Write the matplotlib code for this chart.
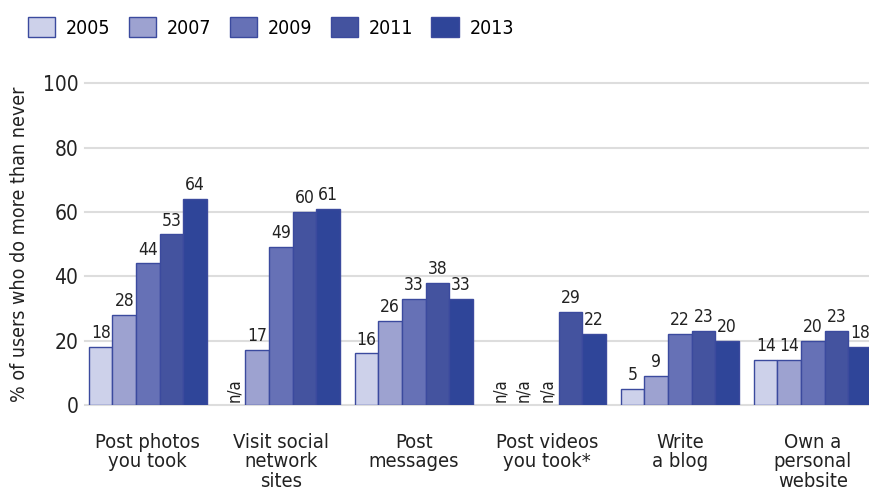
import numpy as np
import matplotlib.pyplot as plt

plt.rcParams['font.family'] = ['DejaVu Sans Condensed', 'Liberation Sans Narrow', 'DejaVu Sans']
plt.rcParams['font.stretch'] = 'condensed'

categories = ['Post photos\nyou took', 'Visit social\nnetwork\nsites', 'Post\nmessages',
              'Post videos\nyou took*', 'Write\na blog', 'Own a\npersonal\nwebsite']
years = ['2005', '2007', '2009', '2011', '2013']
# None = not asked that year (shown as n/a)
v2005 = [18, None, 16, None, 5, 14]
v2007 = [28, 17, 26, None, 9, 14]
v2009 = [44, 49, 33, None, 22, 20]
v2011 = [53, 60, 38, 29, 23, 23]
v2013 = [64, 61, 33, 22, 20, 18]

series = [v2005, v2007, v2009, v2011, v2013]
colors = ['#cdd1ea', '#9da2d0', '#6671b6', '#44539f', '#2f4599']
edge = '#3b4a9e'
txt = '#222222'

fig = plt.figure(figsize=(8.7, 4.92), dpi=100)
ax = fig.add_axes([0.098, 0.177, 0.902, 0.654])

x = np.arange(len(categories))
w = 0.177
for i, (vals, col) in enumerate(zip(series, colors)):
    pos = x + (i - 2) * w
    for p, v in zip(pos, vals):
        if v is None:
            ax.text(p, 0.8, 'n/a', rotation=90, ha='center', va='bottom',
                    fontsize=12, color=txt)
            continue
        ax.bar(p, v, width=w, color=col, edgecolor=edge, linewidth=1.0, zorder=3)
        ax.text(p, v + 1.5, str(v), ha='center', va='bottom', fontsize=12.5,
                color=txt, zorder=4)

for g in range(0, 101, 20):
    ax.axhline(g, color='#dddddd', linewidth=1.5, zorder=1, clip_on=False)

ax.set_ylim(0, 100)
ax.set_xlim(-0.47, 5.43)
ax.set_yticks(range(0, 101, 20))
ax.set_yticklabels([str(t) for t in range(0, 101, 20)], fontsize=15, color=txt)
ax.set_xticks(x)
ax.set_xticklabels(categories, fontsize=14.5, color=txt, va='top', linespacing=1.05)
ax.tick_params(axis='both', length=0)
ax.tick_params(axis='x', pad=20)
ax.tick_params(axis='y', pad=5)
for s in ax.spines.values():
    s.set_visible(False)
ax.set_ylabel('% of users who do more than never', fontsize=14, color=txt, labelpad=10)

# legend row across the top
handles = [plt.Rectangle((0, 0), 1, 1, facecolor=c, edgecolor=edge, linewidth=1.0) for c in colors]
fig.legend(handles, years, loc='upper left', bbox_to_anchor=(0.012, 1.0), ncol=5,
           frameon=False, fontsize=14, handlelength=1.4, handleheight=1.2,
           handletextpad=0.55, columnspacing=0.95)

fig.savefig('out.png', dpi=100)
